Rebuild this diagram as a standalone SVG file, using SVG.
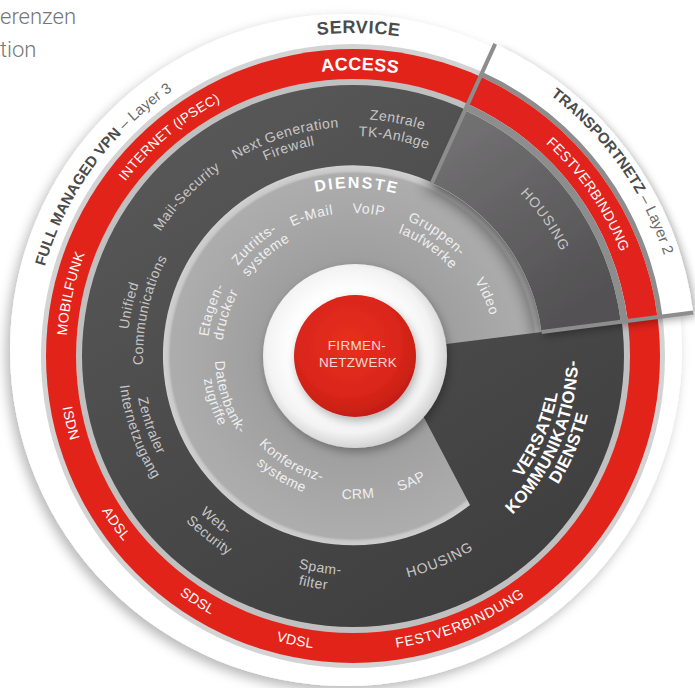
<svg xmlns="http://www.w3.org/2000/svg" width="695" height="688" viewBox="0 0 695 688">
<style>
.t{font-family:"Liberation Sans",Arial,sans-serif}
.pg{font-family:Roboto,"Liberation Sans",sans-serif;font-weight:300;font-size:22px;fill:#777}
.svc{font-size:18px;font-weight:bold;fill:#4b4b4b;letter-spacing:0.6px}
.ob{font-size:15px;font-weight:bold;fill:#4b4b4b}
.ol{font-weight:normal;fill:#6a6a6a}
.rd{font-size:14px;fill:#fff;letter-spacing:0.3px}
.rdb{font-size:18px;font-weight:bold;fill:#fff;letter-spacing:0.3px}
.dk{font-size:14px;fill:#c6c6c6;letter-spacing:0.5px}
.di{font-size:14px;fill:#efefef;letter-spacing:0.6px}
.dib{font-size:16px;font-weight:bold;fill:#fff;letter-spacing:2px}
.vb{font-size:17px;font-weight:bold;fill:#fff;letter-spacing:0.5px}
.fn{font-size:13.5px;fill:#f7d9d4;letter-spacing:0.3px}
.sep{stroke:#8d8d8d;stroke-width:4}
</style>
<defs>
<filter id="fOut" x="-10%" y="-10%" width="120%" height="120%"><feDropShadow dx="-4" dy="5" stdDeviation="6" flood-color="#000" flood-opacity="0.28"/></filter>
<filter id="fSec" x="-20%" y="-20%" width="140%" height="140%"><feDropShadow dx="3" dy="4" stdDeviation="4" flood-color="#000" flood-opacity="0.35"/></filter>
<filter id="fIn" x="-30%" y="-30%" width="160%" height="160%"><feDropShadow dx="2" dy="4" stdDeviation="5" flood-color="#000" flood-opacity="0.3"/></filter>
<filter id="fBlur" x="-30%" y="-30%" width="160%" height="160%"><feGaussianBlur stdDeviation="7"/></filter>
<clipPath id="cDi"><path d="M541.5 331.9A190 190 0 1 0 470 505L420 410A86 86 0 1 1 438.3 345.1Z"/></clipPath>
<linearGradient id="gDark" x1="0.2" y1="0" x2="0.8" y2="1"><stop offset="0" stop-color="#5a595a"/><stop offset="0.5" stop-color="#4b4a4b"/><stop offset="1" stop-color="#3e3d3e"/></linearGradient>
<linearGradient id="gSec" x1="0" y1="0" x2="0.6" y2="1"><stop offset="0" stop-color="#767576"/><stop offset="1" stop-color="#525152"/></linearGradient>
<radialGradient id="gDienste" gradientUnits="userSpaceOnUse" cx="353" cy="356" r="190"><stop offset="0.45" stop-color="#9d9d9d"/><stop offset="0.85" stop-color="#aaaaaa"/><stop offset="0.96" stop-color="#adadad"/><stop offset="0.975" stop-color="#c9c9c9"/><stop offset="1" stop-color="#d0d0d0"/></radialGradient>
<radialGradient id="gWhite" gradientUnits="userSpaceOnUse" cx="350" cy="350" r="98"><stop offset="0.6" stop-color="#ffffff"/><stop offset="0.85" stop-color="#f3f3f3"/><stop offset="1" stop-color="#d4d4d4"/></radialGradient>
<radialGradient id="gRed" cx="0.45" cy="0.4" r="0.62"><stop offset="0" stop-color="#e8301f"/><stop offset="0.7" stop-color="#d9251a"/><stop offset="1" stop-color="#c21d14"/></radialGradient>
<path id="cw323" d="M353 679A323 323 0 1 1 353 33A323 323 0 1 1 353 679"/>
<path id="cw321" d="M353 677A321 321 0 1 1 353 35A321 321 0 1 1 353 677"/>
<path id="cw327" d="M353 683A327 327 0 1 1 353 29A327 327 0 1 1 353 683"/>
<path id="cw286" d="M353 642A286 286 0 1 1 353 70A286 286 0 1 1 353 642"/>
<path id="cw287" d="M353 643A287 287 0 1 1 353 69A287 287 0 1 1 353 643"/>
<path id="cw237" d="M353 593A237 237 0 1 1 353 119A237 237 0 1 1 353 593"/>
<path id="cw233" d="M353 589A233 233 0 1 1 353 123A233 233 0 1 1 353 589"/>
<path id="cw229" d="M353 585A229 229 0 1 1 353 127A229 229 0 1 1 353 585"/>
<path id="cw226" d="M353 582A226 226 0 1 1 353 130A226 226 0 1 1 353 582"/>
<path id="cw220" d="M353 576A220 220 0 1 1 353 136A220 220 0 1 1 353 576"/>
<path id="cw214" d="M353 570A214 214 0 1 1 353 142A214 214 0 1 1 353 570"/>
<path id="cw210" d="M353 566A210 210 0 1 1 353 146A210 210 0 1 1 353 566"/>
<path id="cw168" d="M353 524A168 168 0 1 1 353 188A168 168 0 1 1 353 524"/>
<path id="cw146" d="M353 502A146 146 0 1 1 353 210A146 146 0 1 1 353 502"/>
<path id="cw143" d="M353 499A143 143 0 1 1 353 213A143 143 0 1 1 353 499"/>
<path id="cw131" d="M353 487A131 131 0 1 1 353 225A131 131 0 1 1 353 487"/>
<path id="ccw295" d="M353 61A295 295 0 1 0 353 651A295 295 0 1 0 353 61"/>
<path id="ccw242" d="M353 114A242 242 0 1 0 353 598A242 242 0 1 0 353 114"/>
<path id="ccw235" d="M353 121A235 235 0 1 0 353 591A235 235 0 1 0 353 121"/>
<path id="ccw228" d="M353 128A228 228 0 1 0 353 584A228 228 0 1 0 353 128"/>
<path id="ccw225" d="M353 131A225 225 0 1 0 353 581A225 225 0 1 0 353 131"/>
<path id="ccw219" d="M353 137A219 219 0 1 0 353 575A219 219 0 1 0 353 137"/>
<path id="ccw208" d="M353 148A208 208 0 1 0 353 564A208 208 0 1 0 353 148"/>
<path id="ccw151" d="M353 205A151 151 0 1 0 353 507A151 151 0 1 0 353 205"/>
<path id="ccw145" d="M353 211A145 145 0 1 0 353 501A145 145 0 1 0 353 211"/>
<path id="ccw143" d="M353 213A143 143 0 1 0 353 499A143 143 0 1 0 353 213"/>
<path id="ccw138" d="M353 218A138 138 0 1 0 353 494A138 138 0 1 0 353 218"/>
<path id="ccw129" d="M353 227A129 129 0 1 0 353 485A129 129 0 1 0 353 227"/>
</defs>
<rect width="695" height="688" fill="#fff"/>
<g id="page-text">
<text class="pg" x="0" y="24">erenzen</text>
<text class="pg" x="0" y="57">tion</text>
</g>
<g id="service-ring">
<circle cx="346" cy="350" r="336" fill="#fff" filter="url(#fOut)"/>
<circle cx="353" cy="356" r="312" fill="#d3d3d3"/>
</g>
<g id="access-ring">
<circle cx="353" cy="356" r="307" fill="#e2231a"/>
<circle cx="353" cy="356" r="277" fill="#c0c0c0"/>
</g>
<g id="security-ring">
<circle cx="353" cy="356" r="271" fill="url(#gDark)"/>
</g>
<g id="dienste-ring">
<path d="M541.5 331.9A190 190 0 1 0 470 505L420 410A86 86 0 1 1 438.3 345.1Z" fill="url(#gDienste)"/>
<g clip-path="url(#cDi)"><path d="M465 110.3A270 270 0 0 1 620.8 321.7L541.5 331.9A190 190 0 0 0 431.8 183.1Z" transform="translate(-8 6)" fill="#000" opacity="0.35" filter="url(#fBlur)"/></g>
</g>
<g id="transportnetz" filter="url(#fSec)">
<path d="M495.2 43.9A343 343 0 0 1 693.2 312.4L541.5 331.9A190 190 0 0 0 431.8 183.1Z" fill="#fff"/>
<path d="M482.4 72.1A312 312 0 0 1 662.5 316.4L657.5 317A307 307 0 0 0 480.3 76.6Z" fill="#8d8d8d"/>
<path d="M480.3 76.6A307 307 0 0 1 657.5 317L627.8 320.8A277 277 0 0 0 467.9 103.9Z" fill="#e2231a"/>
<path d="M467.9 103.9A277 277 0 0 1 627.8 320.8L620.8 321.7A270 270 0 0 0 465 110.3Z" fill="#8d8d8d"/>
<path d="M465 110.3A270 270 0 0 1 620.8 321.7L541.5 331.9A190 190 0 0 0 431.8 183.1Z" fill="url(#gSec)"/>
</g>
<g id="connectors">
<line class="sep" x1="431.8" y1="183.1" x2="495.2" y2="43.9"/>
<line class="sep" x1="541.5" y1="331.9" x2="693.2" y2="312.4"/>
</g>
<g id="firmennetzwerk">
<circle cx="355" cy="356" r="92" fill="url(#gWhite)" filter="url(#fIn)"/>
<circle cx="355" cy="356" r="61" fill="url(#gRed)" filter="url(#fIn)"/>
<text class="t fn" x="357" y="350" text-anchor="middle">FIRMEN-</text>
<text class="t fn" x="358" y="367" text-anchor="middle">NETZWERK</text>
</g>
<g id="labels-outer" class="t" text-anchor="middle">
<text class="svc"><textPath href="#cw323" startOffset="50.28%">SERVICE</textPath></text>
<text class="ob"><textPath href="#cw321" startOffset="35%">FULL MANAGED VPN<tspan class="ol"> – Layer 3</tspan></textPath></text>
<text class="ob"><textPath href="#cw327" startOffset="65.17%">TRANSPORTNETZ<tspan class="ol"> – Layer 2</tspan></textPath></text>
</g>
<g id="labels-red" class="t" text-anchor="middle">
<text class="rdb"><textPath href="#cw286" startOffset="50.39%">ACCESS</textPath></text>
<text class="rd" style="font-size:13.5px"><textPath href="#cw287" startOffset="38.89%">INTERNET (IPSEC)</textPath></text>
<text class="rd"><textPath href="#cw287" startOffset="28.47%">MOBILFUNK</textPath></text>
<text class="rd"><textPath href="#cw287" startOffset="65.42%">FESTVERBINDUNG</textPath></text>
<text class="rd"><textPath href="#ccw295" startOffset="28.72%">ISDN</textPath></text>
<text class="rd"><textPath href="#ccw295" startOffset="34.81%">ADSL</textPath></text>
<text class="rd"><textPath href="#ccw295" startOffset="41%">SDSL</textPath></text>
<text class="rd"><textPath href="#ccw295" startOffset="46.81%">VDSL</textPath></text>
<text class="rd" style="letter-spacing:0.8px"><textPath href="#ccw295" startOffset="56.14%">FESTVERBINDUNG</textPath></text>
</g>
<g id="labels-dark" class="t" text-anchor="middle">
<text class="dk"><textPath href="#cw226" startOffset="28.53%">Unified</textPath></text>
<text class="dk"><textPath href="#cw210" startOffset="28.53%">Communications</textPath></text>
<text class="dk"><textPath href="#cw229" startOffset="37.17%">Mail-Security</textPath></text>
<text class="dk"><textPath href="#cw229" startOffset="45.22%">Next Generation</textPath></text>
<text class="dk"><textPath href="#cw214" startOffset="45.22%">Firewall</textPath></text>
<text class="dk"><textPath href="#cw237" startOffset="52.97%">Zentrale</textPath></text>
<text class="dk"><textPath href="#cw220" startOffset="52.97%">TK-Anlage</textPath></text>
<text class="dk" style="letter-spacing:1px"><textPath href="#cw233" startOffset="65.17%">HOUSING</textPath></text>
<text class="dk"><textPath href="#ccw219" startOffset="30.28%">Zentraler</textPath></text>
<text class="dk"><textPath href="#ccw235" startOffset="30.42%">Internetzugang</textPath></text>
<text class="dk"><textPath href="#ccw219" startOffset="38.97%">Web-</textPath></text>
<text class="dk"><textPath href="#ccw235" startOffset="39.25%">Security</textPath></text>
<text class="dk"><textPath href="#ccw219" startOffset="47.56%">Spam-</textPath></text>
<text class="dk"><textPath href="#ccw235" startOffset="47.25%">filter</textPath></text>
<text class="dk" style="letter-spacing:1px"><textPath href="#ccw228" startOffset="56.39%">HOUSING</textPath></text>
</g>
<g id="labels-versatel" class="t" text-anchor="middle">
<text class="vb"><textPath href="#ccw208" startOffset="68.61%">VERSATEL</textPath></text>
<text class="vb"><textPath href="#ccw225" startOffset="68.61%">KOMMUNIKATIONS-</textPath></text>
<text class="vb"><textPath href="#ccw242" startOffset="68.61%">DIENSTE</textPath></text>
</g>
<g id="labels-dienste" class="t" text-anchor="middle">
<text class="dib"><textPath href="#cw168" startOffset="50.36%">DIENSTE</textPath></text>
<text class="di"><textPath href="#cw143" startOffset="45.42%">E-Mail</textPath></text>
<text class="di"><textPath href="#cw143" startOffset="51.72%">VoIP</textPath></text>
<text class="di"><textPath href="#cw146" startOffset="59.58%">Gruppen-</textPath></text>
<text class="di"><textPath href="#cw131" startOffset="59.58%">laufwerke</textPath></text>
<text class="di"><textPath href="#cw143" startOffset="68.33%">Video</textPath></text>
<text class="di"><textPath href="#cw146" startOffset="38.47%">Zutritts-</textPath></text>
<text class="di"><textPath href="#cw131" startOffset="38.67%">systeme</textPath></text>
<text class="di"><textPath href="#cw146" startOffset="30%">Etagen-</textPath></text>
<text class="di"><textPath href="#cw131" startOffset="30%">drucker</textPath></text>
<text class="di"><textPath href="#ccw138" startOffset="30.11%">Datenbank-</textPath></text>
<text class="di"><textPath href="#ccw151" startOffset="30.11%">zugriffe</textPath></text>
<text class="di"><textPath href="#ccw129" startOffset="41.58%">Konferenz-</textPath></text>
<text class="di"><textPath href="#ccw145" startOffset="41.44%">systeme</textPath></text>
<text class="di"><textPath href="#ccw143" startOffset="50.58%">CRM</textPath></text>
<text class="di"><textPath href="#ccw143" startOffset="56.94%">SAP</textPath></text>
</g>
</svg>
